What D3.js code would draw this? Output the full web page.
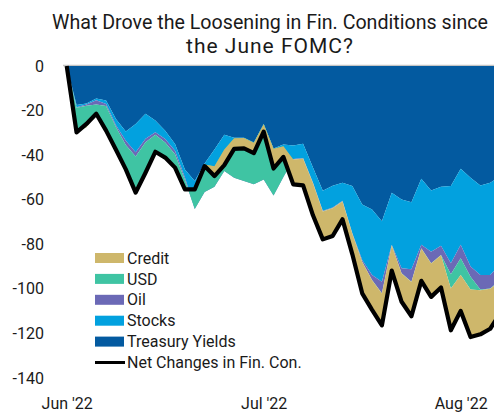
<!DOCTYPE html>
<html>
<head>
<meta charset="utf-8">
<script src="https://cdn.jsdelivr.net/npm/d3@7"></script>
<style>
  html, body { margin: 0; padding: 0; background: #fff; }
  svg { display: block; font-family: Roboto, "Noto Sans", sans-serif; }
</style>
</head>
<body>
<svg id="chart" width="494" height="412"></svg>
<script>
const categories = [
  "2022-06-15","2022-06-16","2022-06-17","2022-06-21","2022-06-22","2022-06-23","2022-06-24",
  "2022-06-27","2022-06-28","2022-06-29","2022-06-30","2022-07-01","2022-07-05","2022-07-06",
  "2022-07-07","2022-07-08","2022-07-11","2022-07-12","2022-07-13","2022-07-14","2022-07-15",
  "2022-07-18","2022-07-19","2022-07-20","2022-07-21","2022-07-22","2022-07-25","2022-07-26",
  "2022-07-27","2022-07-28","2022-07-29","2022-08-01","2022-08-02","2022-08-03","2022-08-04",
  "2022-08-05","2022-08-08","2022-08-09","2022-08-10","2022-08-11","2022-08-12","2022-08-15",
  "2022-08-16","2022-08-17","2022-08-18"
];
const tickLabels = ["Jun '22", "Jul '22", "Aug '22"];
const tickEvery = 20;
const yTicks = [0, -20, -40, -60, -80, -100, -120, -140];

const treasury = [0,-17.5,-16.8,-14.6,-15.5,-23.8,-29.4,-26.0,-21.4,-24.4,-29.0,-35.0,-46.4,-51.6,-43.8,-37.5,-30.9,-32.2,-32.2,-34.3,-26.0,-37.0,-35.2,-35.7,-34.9,-45.5,-56.0,-53.7,-52.4,-53.9,-62.2,-64.4,-69.7,-56.9,-59.9,-61.1,-50.6,-55.9,-54.2,-53.9,-46.1,-50.1,-53.6,-52.4,-49.5];
const stocks   = [0,-1.0,-0.5,-0.8,-1.5,-2.8,-4.1,-12.7,-11.3,-5.3,-3.8,-3.0,-3.6,-12.2,-12.2,-16.3,-15.9,-17.6,-19.1,-18.5,-24.6,-20.8,-14.3,-6.0,-6.4,-6.8,-9.0,-9.8,-8.1,-21.1,-24.8,-29.4,-27.1,-23.3,-30.9,-30.1,-29.6,-27.4,-26.5,-34.6,-34.1,-39.9,-40.2,-41.4,-39.5];
const oil      = [0,-0.2,-0.5,-1.9,-0.9,-0.8,-2.0,-1.9,-1.5,-1.1,-1.5,-1.6,-1.0,-0.4,-0.5,-0.4,-0.3,-0.3,-0.3,-0.3,-0.3,-0.3,-0.3,-0.2,-0.2,-0.2,-0.2,-0.2,-0.2,-0.3,-0.8,-2.2,-5.2,-0.2,-2.2,-5.6,-1.6,-5.2,-4.1,-5.0,-6.1,-4.6,-6.5,-6.0,-7.0];
const usd      = [0,-10.8,-9.7,-4.3,-11.3,-10.4,-11.1,-14.4,-13.8,-7.7,-6.8,-4.9,-4.4,9.0,12.3,9.2,9.6,17.7,19.3,18.7,24.8,21.0,13.8,-0.1,-0.1,-0.1,-0.1,-0.1,-0.1,-0.1,-0.2,-0.1,-0.1,-0.1,-0.1,-0.1,-0.1,-0.1,-0.1,-6.3,-7.5,-5.7,-0.3,-0.2,-0.2];
const credit   = [0,-0.3,1.5,0.2,0.2,0.2,0.2,-1.8,0.1,0,0,-1.1,0,-0.2,-0.7,-4.4,-7.0,-4.8,-4.7,-4.7,-3.4,-8.9,-4.8,-11.1,-12.0,-14.4,-12.5,-12.5,-8.0,-9.1,-14.0,-13.3,-14.3,-11.3,-12.7,-15.4,-14.5,-15.0,-14.5,-18.8,-16.1,-21.3,-19.8,-17.9,-14.8];
const net      = [0,-29.8,-26.0,-21.4,-29.0,-37.6,-46.4,-56.8,-47.9,-38.5,-41.1,-45.6,-55.4,-55.4,-44.9,-49.4,-44.5,-37.2,-37.0,-39.1,-29.5,-46.0,-40.8,-53.1,-53.6,-67.0,-77.8,-76.3,-68.8,-84.5,-102.0,-109.4,-116.4,-91.8,-105.8,-112.3,-96.4,-103.6,-99.4,-118.6,-109.9,-121.6,-120.4,-117.9,-111.0];

const seriesNames = ["Treasury Yields", "Stocks", "Oil", "USD", "Credit"];
const seriesValues = [treasury, stocks, oil, usd, credit];
const seriesColors = ["#035aa0", "#02a1df", "#6b69b6", "#3fc4a3", "#ceb76b"];
const netName = "Net Changes in Fin. Con.";

const svg = d3.select("#chart");

// title
const title = svg.append("g").attr("fill", "#1a1a1a").attr("text-anchor", "middle");
title.append("text").attr("x", 270).attr("y", 29).attr("font-size", 19.8)
  .attr("textLength", 436).attr("lengthAdjust", "spacingAndGlyphs")
  .text("What Drove the Loosening in Fin. Conditions since");
title.append("text").attr("x", 270).attr("y", 53).attr("font-size", 21)
  .attr("letter-spacing", 1)
  .text("the June FOMC?");

const x = d3.scalePoint().domain(categories).range([66.7, 500.1]);
const y = d3.scaleLinear().domain([-140, 0]).range([378, 66]);

// table for stacking
const table = categories.map((c, i) => {
  const row = { date: c };
  seriesNames.forEach((n, s) => row[n] = seriesValues[s][i]);
  return row;
});
const stacked = d3.stack().keys(seriesNames).order(d3.stackOrderNone).offset(d3.stackOffsetNone)(table);

// zero axis line
svg.append("line").attr("x1", 63).attr("x2", 494).attr("y1", y(0) - 0.5).attr("y2", y(0) - 0.5)
  .attr("stroke", "#c4c4c4").attr("stroke-width", 1.5);

const area = d3.area()
  .x(d => x(d.data.date))
  .y0(d => y(d[0]))
  .y1(d => y(d[1]));

svg.append("g").selectAll("path").data(stacked).join("path")
  .attr("d", area)
  .attr("fill", (d, i) => seriesColors[i]);

const line = d3.line().x((d, i) => x(categories[i])).y(d => y(d));
svg.append("path").datum(net).attr("d", line)
  .attr("fill", "none").attr("stroke", "#000").attr("stroke-width", 4.2)
  .attr("stroke-linejoin", "round");

// y axis
const yAxis = d3.axisLeft(y).tickValues(yTicks).tickFormat(d => String(d)).tickSize(0).tickPadding(3);
const gy = svg.append("g").attr("transform", "translate(47,0)").call(yAxis);
gy.select(".domain").remove();
gy.selectAll("text").attr("font-size", 16).attr("fill", "#1a1a1a").attr("font-family", "Roboto");

// x axis
const xTickVals = categories.filter((c, i) => i % tickEvery === 0);
const xAxis = d3.axisBottom(x).tickValues(xTickVals)
  .tickFormat((d) => tickLabels[xTickVals.indexOf(d)]).tickSize(0).tickPadding(3);
const gx = svg.append("g").attr("transform", "translate(0,395)").call(xAxis);
gx.select(".domain").remove();
gx.selectAll("text").attr("font-size", 16).attr("fill", "#1a1a1a").attr("font-family", "Roboto");

// legend
const legendItems = [
  { name: "Credit", color: seriesColors[4], type: "area" },
  { name: "USD", color: seriesColors[3], type: "area" },
  { name: "Oil", color: seriesColors[2], type: "area" },
  { name: "Stocks", color: seriesColors[1], type: "area" },
  { name: "Treasury Yields", color: seriesColors[0], type: "area" },
  { name: netName, color: "#000", type: "line" }
];
const lg = svg.append("g").attr("transform", "translate(95,258)");
const rows = lg.selectAll("g").data(legendItems).join("g")
  .attr("transform", (d, i) => `translate(0,${i * 20.9})`);
rows.filter(d => d.type === "area").append("rect")
  .attr("x", 0).attr("y", -5).attr("width", 29).attr("height", 10).attr("fill", d => d.color);
rows.filter(d => d.type === "line").append("line")
  .attr("x1", 0).attr("x2", 30).attr("y1", 0).attr("y2", 0)
  .attr("stroke", "#000").attr("stroke-width", 3);
rows.append("text").attr("x", 32).attr("y", 0).attr("dy", "0.35em")
  .attr("font-size", 16).attr("fill", "#1a1a1a").text(d => d.name);
</script>
</body>
</html>
